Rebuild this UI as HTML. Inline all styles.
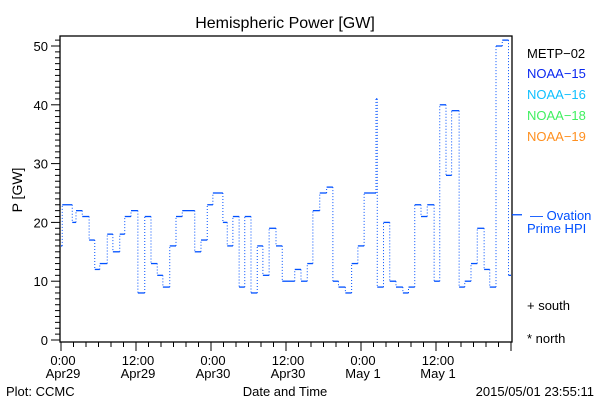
<!DOCTYPE html>
<html><head><meta charset="utf-8"><style>
body{margin:0;background:#fff;}
svg text{font-family:"Liberation Sans",sans-serif;}
</style></head><body>
<svg id="chart" width="600" height="400" xmlns="http://www.w3.org/2000/svg">
<text x="285" y="28" font-size="16" text-anchor="middle">Hemispheric Power [GW]</text>
<g id="axes"></g>
<g id="series"></g>
<text x="22" y="190" font-size="14" text-anchor="middle" transform="rotate(-90 22 190)">P [GW]</text>
<text x="285" y="396" font-size="13" text-anchor="middle">Date and Time</text>
<text x="6" y="396" font-size="13">Plot: CCMC</text>
<text x="594" y="396" font-size="13" text-anchor="end">2015/05/01 23:55:11</text>
<g font-size="13">
<text x="527" y="58" fill="#000">METP−02</text>
<text x="527" y="78" fill="#0a28f0">NOAA−15</text>
<text x="527" y="99" fill="#10c0ff">NOAA−16</text>
<text x="527" y="120" fill="#40f060">NOAA−18</text>
<text x="527" y="141" fill="#ff9020">NOAA−19</text>
<text x="530" y="220" fill="#0050ff">— Ovation</text>
<text x="527" y="233" fill="#0050ff">Prime HPI</text>
<text x="527" y="310" fill="#000">+ south</text>
<text x="527" y="343" fill="#000">* north</text>
</g>
</svg>
<script>
const hours=[0,0.2,1.8,2.4,3.4,4.5,5.4,6.2,7.4,8.3,9.4,10.2,11.2,12.3,13.4,14.4,15.4,16.3,17.4,18.4,19.4,21.4,22.4,23.4,24.3,25.9,26.6,27.5,28.5,29.4,30.4,31.4,32.3,33.3,34.4,35.4,37.4,38.4,39.4,40.3,41.4,42.5,43.5,44.4,45.5,46.5,47.5,48.5,50.4,50.6,51.6,52.6,53.6,54.7,55.6,56.6,57.6,58.6,59.7,60.6,61.6,62.5,63.7,64.6,65.6,66.6,67.7,68.6,69.6,70.6,71.6];
const values=[16,23,20,22,21,17,12,13,18,15,18,21,22,8,21,13,11,9,16,21,22,15,17,23,25,20,16,21,9,21,8,16,11,19,16,10,12,10,13,22,25,26,10,9,8,13,16,25,41,9,20,10,9,8,9,23,21,23,10,40,28,39,9,10,13,19,12,9,50,51,11];
const endHour=72;
const ovation=[21.3];
const yTicks=[0,10,20,30,40,50];
const xTickHours=[0,12,24,36,48,60];
const xTickTimes=["0:00","12:00","0:00","12:00","0:00","12:00"];
const xTickDates=["Apr29","Apr29","Apr30","Apr30","May 1","May 1"];

const NS="http://www.w3.org/2000/svg";
const L=60,R=512,T=36,B=342;
const xs=h=>61+h*6.25;
const ys=v=>340-v*5.88;
function mk(tag,attrs,parent){const e=document.createElementNS(NS,tag);for(const k in attrs)e.setAttribute(k,attrs[k]);parent.appendChild(e);return e;}
const ax=document.getElementById('axes');
const frame=mk('rect',{x:L,y:T,width:R-L,height:B-T,fill:'none',stroke:'#000','stroke-width':1.3},ax);


for(let v=0;v<=51;v++){
  const len=v%10===0?9:5;
  const t=mk('line',{x1:L-len,x2:L,y1:ys(v),y2:ys(v),stroke:'#000','stroke-width':1},ax);
  
  
}
yTicks.forEach(v=>{
  const t=mk('text',{x:L-12,y:ys(v)+5,'font-size':13,'text-anchor':'end'},ax);t.textContent=v;
  
  
});
for(let h=0;h<=72;h+=2){
  const len=h%12===0?9:5;
  const t=mk('line',{x1:xs(h),x2:xs(h),y1:B,y2:B+len,stroke:'#000','stroke-width':1},ax);
  
  
}
xTickHours.forEach((h,i)=>{
  const a=mk('text',{x:xs(h)+2,y:365,'font-size':13,'text-anchor':'middle'},ax);a.textContent=xTickTimes[i];
  
  
  const b=mk('text',{x:xs(h)+2,y:378,'font-size':13,'text-anchor':'middle'},ax);b.textContent=xTickDates[i];
  
  
});
const s=document.getElementById('series');
const col='#0050ff';
for(let i=0;i<values.length;i++){
  const x0=xs(hours[i]),x1=xs(i+1<hours.length?hours[i+1]:endHour);
  const h=mk('line',{x1:x0,x2:x1,y1:ys(values[i]),y2:ys(values[i]),stroke:col,'stroke-width':1.3},s);
  
  
  if(i+1<values.length){
    const v=mk('line',{x1:x1,x2:x1,y1:ys(values[i]),y2:ys(values[i+1]),stroke:col,'stroke-width':1,'stroke-dasharray':'1 2'},s);
    
    
  }
}
const o=mk('line',{x1:R,x2:R+10,y1:ys(ovation[0]),y2:ys(ovation[0]),stroke:col,'stroke-width':1.3},s);


</script>
</body></html>
